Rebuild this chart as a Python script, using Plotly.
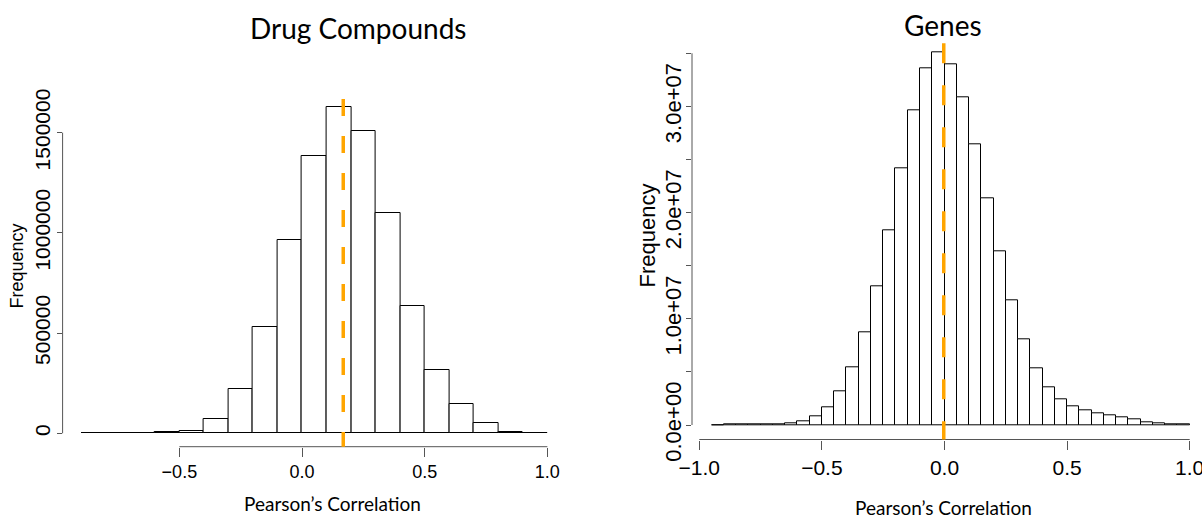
import plotly.graph_objects as go

# ---------------- data ----------------
drug_bin_left = [-0.9, -0.8, -0.7, -0.6, -0.5, -0.4, -0.3, -0.2, -0.1, 0.0,
                 0.1, 0.2, 0.3, 0.4, 0.5, 0.6, 0.7, 0.8, 0.9]
drug_counts = [1000, 2000, 2000, 5000, 13000, 71500, 222800, 532000, 966000, 1385000,
               1626000, 1510000, 1099000, 634000, 318000, 145000, 53000, 8300, 1500]
drug_bin_width = 0.1
drug_mean = 0.168

gene_bin_left = [-0.95, -0.90, -0.85, -0.80, -0.75, -0.70, -0.65, -0.60, -0.55, -0.50,
                 -0.45, -0.40, -0.35, -0.30, -0.25, -0.20, -0.15, -0.10, -0.05, 0.00,
                 0.05, 0.10, 0.15, 0.20, 0.25, 0.30, 0.35, 0.40, 0.45, 0.50,
                 0.55, 0.60, 0.65, 0.70, 0.75, 0.80, 0.85, 0.90, 0.95]
gene_counts = [15000, 20000, 25000, 30000, 40000, 63000, 157000, 377000, 816000, 1660000,
               3170000, 5460000, 8760000, 13090000, 18360000, 24140000, 29630000, 33620000, 35060000, 33960000,
               30850000, 26430000, 21380000, 16350000, 11770000, 8100000, 5370000, 3550000, 2420000, 1760000,
               1380000, 1100000, 910000, 690000, 500000, 280000, 157000, 60000, 30000]
gene_bin_width = 0.05
gene_mean = -0.003

drug_xticks = [-0.5, 0.0, 0.5, 1.0]
drug_xtick_labels = ["\u22120.5", "0.0", "0.5", "1.0"]
drug_yticks = [0, 500000, 1000000, 1500000]
drug_ytick_labels = ["0", "500000", "1000000", "1500000"]

gene_xticks = [-1.0, -0.5, 0.0, 0.5, 1.0]
gene_xtick_labels = ["\u22121.0", "\u22120.5", "0.0", "0.5", "1.0"]
gene_yticks = [0, 5e6, 1e7, 1.5e7, 2e7, 2.5e7, 3e7, 3.5e7]
gene_ytick_labels = ["0.0e+00", "", "1.0e+07", "", "2.0e+07", "", "3.0e+07", ""]

titles = ["Drug Compounds", "Genes"]
x_title = "Pearson\u2019s Correlation"
y_title = "Frequency"

# ---------------- layout helpers ----------------
W, H = 1202, 518
def fx(p):
    return p / W
def fy(p):
    return 1 - p / H

AXIS_COL = "#555555"
ORANGE = "#FFA500"
TICK_FONT = "Liberation Sans, Arial, sans-serif"
NARROW_FONT = "Liberation Sans Narrow, Arial Narrow, Liberation Sans, sans-serif"
TITLE_FONT = "Lato, Open Sans, sans-serif"

fig = go.Figure()

fig.add_trace(go.Bar(
    x=[l + drug_bin_width / 2 for l in drug_bin_left], y=drug_counts,
    width=[drug_bin_width] * len(drug_bin_left),
    marker=dict(color="white", line=dict(color="black", width=1)),
    xaxis="x", yaxis="y", showlegend=False, hoverinfo="skip"))

fig.add_trace(go.Bar(
    x=[l + gene_bin_width / 2 for l in gene_bin_left], y=gene_counts,
    width=[gene_bin_width] * len(gene_bin_left),
    marker=dict(color="white", line=dict(color="black", width=1)),
    xaxis="x2", yaxis="y2", showlegend=False, hoverinfo="skip"))

common_axis = dict(showgrid=False, zeroline=False, showline=False, ticks="outside",
                   tickcolor=AXIS_COL, tickwidth=1, automargin=False,
                   ticklabeloverflow="allow")

fig.update_layout(
    template="none",
    width=W, height=H, margin=dict(l=0, r=0, t=0, b=0, pad=0),
    paper_bgcolor="white", plot_bgcolor="white", bargap=0,
    xaxis=dict(domain=[fx(62.6), fx(566)], range=[-0.976, 1.076],
               tickvals=drug_xticks, ticktext=drug_xtick_labels, ticklen=9,
               tickfont=dict(family=NARROW_FONT, size=18, color="black"),
               anchor="y", **common_axis),
    yaxis=dict(domain=[fy(446.7), fy(99)], range=[-66900, 1668000],
               tickvals=drug_yticks, ticktext=drug_ytick_labels, ticklen=5,
               tickangle=-90, ticklabelstandoff=-2,
               tickfont=dict(family=TICK_FONT, size=21, color="black"),
               anchor="x", **common_axis),
    xaxis2=dict(domain=[fx(692), 1.0], range=[-1.0298, 1.0502],
                tickvals=gene_xticks, ticktext=gene_xtick_labels, ticklen=9,
                tickfont=dict(family=NARROW_FONT, size=21, color="black"),
                anchor="y2", **common_axis),
    yaxis2=dict(domain=[fy(439.5), fy(43.3)], range=[-1365000, 35940000],
                tickvals=gene_yticks, ticktext=gene_ytick_labels, ticklen=5,
                tickangle=-90, ticklabelstandoff=-4,
                tickfont=dict(family=TICK_FONT, size=22, color="black"),
                anchor="x2", **common_axis),
)

shapes = []
# R-style axis lines spanning the tick range
for xr, yr, xt, yt in [("x", "y", drug_xticks, drug_yticks), ("x2", "y2", gene_xticks, gene_yticks)]:
    shapes.append(dict(type="line", xref=xr, yref=yr + " domain", x0=min(xt), x1=max(xt), y0=0, y1=0,
                       line=dict(color=AXIS_COL, width=1)))
    shapes.append(dict(type="line", xref=xr + " domain", yref=yr, x0=0, x1=0, y0=min(yt), y1=max(yt),
                       line=dict(color=AXIS_COL, width=1)))
# dashed orange mean lines
shapes.append(dict(type="line", xref="x", yref="y domain", x0=drug_mean, x1=drug_mean, y0=1, y1=0,
                   line=dict(color=ORANGE, width=3.5, dash="17px,20px")))
shapes.append(dict(type="line", xref="x2", yref="y2 domain", x0=gene_mean, x1=gene_mean, y0=1, y1=0,
                   line=dict(color=ORANGE, width=3.5, dash="20px,22px")))
fig.update_layout(shapes=shapes)

ann = []
ann.append(dict(text=titles[0], x=fx(358), y=fy(28), xref="paper", yref="paper",
                xanchor="center", yanchor="middle", showarrow=False,
                font=dict(family=TITLE_FONT, size=28, color="black")))
ann.append(dict(text=titles[1], x=fx(942.5), y=fy(25), xref="paper", yref="paper",
                xanchor="center", yanchor="middle", showarrow=False,
                font=dict(family=TITLE_FONT, size=28, color="black")))
ann.append(dict(text=x_title, x=fx(332), y=fy(503), xref="paper", yref="paper",
                xanchor="center", yanchor="middle", showarrow=False,
                font=dict(family=TITLE_FONT, size=19, color="black")))
ann.append(dict(text=x_title, x=fx(943), y=fy(507), xref="paper", yref="paper",
                xanchor="center", yanchor="middle", showarrow=False,
                font=dict(family=TITLE_FONT, size=19, color="black")))
ann.append(dict(text=y_title, x=fx(16.5), y=fy(266), xref="paper", yref="paper", textangle=-90,
                xanchor="center", yanchor="middle", showarrow=False,
                font=dict(family=TICK_FONT, size=18, color="black")))
ann.append(dict(text=y_title, x=fx(646.5), y=fy(236), xref="paper", yref="paper", textangle=-90,
                xanchor="center", yanchor="middle", showarrow=False,
                font=dict(family=TICK_FONT, size=22, color="black")))
fig.update_layout(annotations=ann)

fig.write_html("out.html")
